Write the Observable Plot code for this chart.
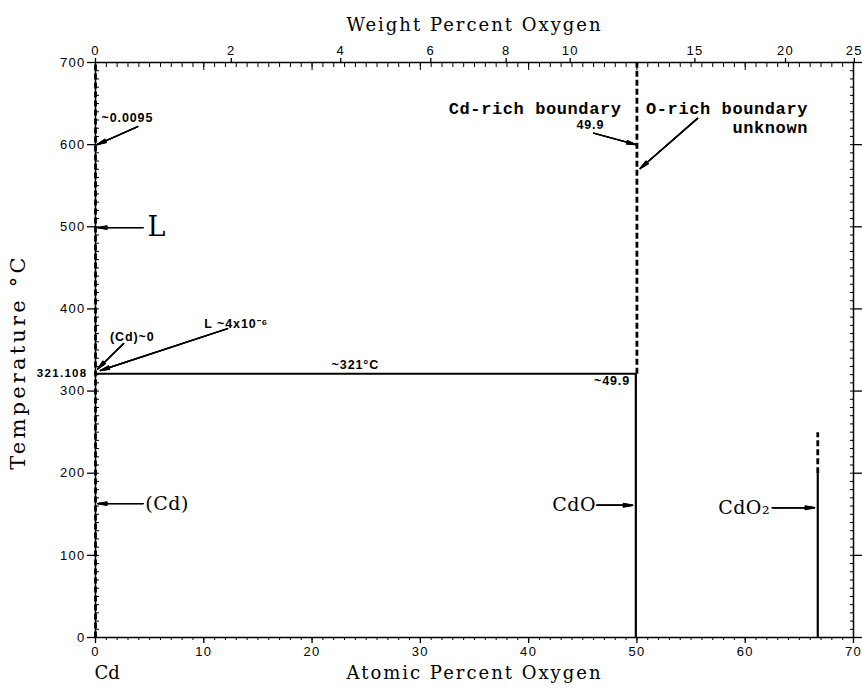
<!DOCTYPE html>
<html>
<head>
<meta charset="utf-8">
<script src="https://cdn.jsdelivr.net/npm/d3@7"></script>
<script src="https://cdn.jsdelivr.net/npm/@observablehq/plot@0.6"></script>
<style>
  html, body { margin: 0; padding: 0; background: #fff; }
  svg { display: block; }
</style>
</head>
<body>
<div id="chart"></div>
<script>
// ---- axis ticks ----
const atTicks = [0, 10, 20, 30, 40, 50, 60, 70];
const atMinor = d3.range(0, 71, 1);
const tempTicks = [0, 100, 200, 300, 400, 500, 600, 700];
const tempMinor = d3.range(0, 701, 10);
const wtTicks = [0, 2, 4, 6, 8, 10, 15, 20, 25];
const massO = 15.9994, massCd = 112.41;
const wtToAt = w => 100 * (w / massO) / (w / massO + (100 - w) / massCd);

// ---- phase boundaries (at.% O, °C) ----
const eutT = 321.108;
const cdoCdRich = 49.9;
const cdoORich = 50.0;
const cdo2X = 66.7;
const cdo2SolidTop = 200;
const cdo2DashTop = 250;
const tMax = 700;

const solidSegs = [
  {x1: 0, y1: eutT, x2: cdoCdRich, y2: eutT},
  {x1: cdoCdRich, y1: 0, x2: cdoCdRich, y2: eutT},
  {x1: cdo2X, y1: 0, x2: cdo2X, y2: cdo2SolidTop}
];
const dashedSegs = [
  {x1: 0, y1: 0, x2: 0, y2: tMax},
  {x1: cdoORich, y1: eutT, x2: cdoORich, y2: tMax},
  {x1: cdo2X, y1: cdo2SolidTop, x2: cdo2X, y2: cdo2DashTop}
];

// ---- annotations (data coordinates) ----
const smallLabels = [
  {text: "~0.0095", x: 0.55, y: 633, anchor: "start"},
  {text: "(Cd)~0", x: 3.4, y: 366, anchor: "middle"},
  {text: "L ~4x10⁻⁶", x: 13.0, y: 382, anchor: "middle"},
  {text: "~321°C", x: 24.0, y: 332, anchor: "middle"},
  {text: "~49.9", x: 47.7, y: 312, anchor: "middle"},
  {text: "49.9", x: 45.7, y: 624, anchor: "middle"}
];
const monoLabels = [
  {text: "Cd-rich boundary", x: 40.6, y: 644, anchor: "middle"},
  {text: "O-rich boundary", x: 65.8, y: 644, anchor: "end"},
  {text: "unknown", x: 65.8, y: 621, anchor: "end"}
];
const phaseLabels = [
  {text: "(Cd)", x: 4.6, y: 163, anchor: "start"},
  {text: "CdO", x: 44.2, y: 161, anchor: "middle"},
  {text: "CdO₂", x: 57.5, y: 158, anchor: "start"}
];
const liquidLabel = [{text: "L", x: 4.8, y: 499}];
const arrows = [
  {x1: 3.9, y1: 622, x2: 0.15, y2: 600},
  {x1: 4.4, y1: 499, x2: 0.2, y2: 499},
  {x1: 2.6, y1: 358, x2: 0.2, y2: 327},
  {x1: 12.2, y1: 376, x2: 0.45, y2: 325},
  {x1: 46.0, y1: 614, x2: 49.9, y2: 600},
  {x1: 55.6, y1: 632, x2: 50.3, y2: 571},
  {x1: 4.4, y1: 163, x2: 0.2, y2: 163},
  {x1: 46.3, y1: 161, x2: 49.6, y2: 161},
  {x1: 62.5, y1: 158, x2: 66.4, y2: 158}
];

const wtPos = wtTicks.map(wtToAt);
const wtLabel = new Map(wtPos.map((p, i) => [p, String(wtTicks[i])]));

const serif = "'DejaVu Serif', serif";
const sans = "'Liberation Sans', Arial, sans-serif";
const mono = "'Liberation Mono', 'DejaVu Sans Mono', monospace";

const arrowMarks = [8, 15, 22].map(a => Plot.arrow(arrows, {
  x1: "x1", y1: "y1", x2: "x2", y2: "y2",
  headLength: 10, headAngle: a, strokeWidth: 1.4, stroke: "black"
}));

function labelMarks(data, opts, cls) {
  return ["start", "middle", "end"].map(anchor => Plot.text(data.filter(d => (d.anchor || "start") === anchor), {
    x: "x", y: "y", text: "text", textAnchor: anchor, ariaLabel: () => cls, ...opts
  }));
}

const svg = Plot.plot({
  width: 862, height: 688,
  marginLeft: 95, marginRight: 9, marginTop: 62, marginBottom: 51,
  style: {fontFamily: sans, fontSize: "13px", color: "black", background: "white", overflow: "visible"},
  x: {domain: [0, 70]},
  y: {domain: [0, 700]},
  marks: [
    Plot.frame({stroke: "black", strokeWidth: 1.5}),
    // bottom axis
    Plot.axisX(atTicks, {anchor: "bottom", tickSize: 6, tickPadding: 3, label: null, strokeWidth: 1.3}),
    Plot.axisX(atMinor, {anchor: "bottom", tickSize: 3, tickFormat: () => "", label: null}),
    // top axis (weight percent)
    Plot.axisX(wtPos, {anchor: "top", tickSize: 5, tickPadding: 3, tickFormat: d => wtLabel.get(d), label: null, strokeWidth: 1.3}),
    Plot.axisX(atTicks, {anchor: "top", tickSize: 7, dy: 7, tickFormat: () => "", label: null}),
    Plot.axisX(atMinor, {anchor: "top", tickSize: 4, dy: 4, tickFormat: () => "", label: null}),
    // left axis
    Plot.axisY(tempTicks, {anchor: "left", tickSize: 8, tickPadding: 2, label: null, strokeWidth: 1.3}),
    Plot.axisY(tempMinor, {anchor: "left", tickSize: 4, dx: 4, tickFormat: () => "", label: null}),
    Plot.axisY([eutT], {anchor: "left", tickSize: 0, tickPadding: 8, tickFormat: d => String(d), fontWeight: "bold", fontSize: 11.5, label: null}),
    // right axis
    Plot.axisY(tempTicks, {anchor: "right", tickSize: 8, tickFormat: () => "", label: null, strokeWidth: 1.3}),
    Plot.axisY(tempMinor, {anchor: "right", tickSize: 4, dx: -4, tickFormat: () => "", label: null}),
    // phase boundaries
    Plot.link(solidSegs, {x1: "x1", y1: "y1", x2: "x2", y2: "y2", stroke: "black", strokeWidth: 2.2}),
    Plot.link(dashedSegs, {x1: "x1", y1: "y1", x2: "x2", y2: "y2", stroke: "black", strokeWidth: 2.8, strokeDasharray: "6,3"}),
    // arrows
    ...arrowMarks,
    // labels
    ...labelMarks(smallLabels, {fontFamily: sans, fontWeight: "bold", fontSize: 12.5}, "small"),
    ...labelMarks(monoLabels, {fontFamily: mono, fontWeight: "bold", fontSize: 17}, "mono"),
    ...labelMarks(phaseLabels, {fontFamily: serif, fontSize: 19}, "phase"),
    Plot.text(liquidLabel, {x: "x", y: "y", text: "text", textAnchor: "start", fontFamily: serif, fontSize: 27}),
    // axis titles
    Plot.text(["Weight Percent Oxygen"], {frameAnchor: "top", dy: -44, fontFamily: serif, fontSize: 18, ariaLabel: () => "title"}),
    Plot.text(["Atomic Percent Oxygen"], {frameAnchor: "bottom", dy: 41, fontFamily: serif, fontSize: 18, ariaLabel: () => "title"}),
    Plot.text(["Cd"], {x: () => 0, frameAnchor: "bottom", dy: 41, textAnchor: "start", dx: -1, fontFamily: serif, fontSize: 18}),
    Plot.text(["Temperature °C"], {frameAnchor: "left", textAnchor: "middle", dx: -77, dy: 12, rotate: -90, fontFamily: serif, fontSize: 21, ariaLabel: () => "ytitle"})
  ]
});

document.getElementById("chart").appendChild(svg);
const s = d3.select(svg);
s.selectAll('g[aria-label$="tick label"]').attr("letter-spacing", 1.3);
s.selectAll('[aria-label="small"]').attr("letter-spacing", 0.9);
s.selectAll('[aria-label="mono"]').attr("letter-spacing", 0.6);
s.selectAll('[aria-label="phase"]').attr("letter-spacing", 0.5);
s.selectAll('[aria-label="title"]').attr("letter-spacing", 2);
s.selectAll('[aria-label="ytitle"]').attr("letter-spacing", 3.2);
</script>
</body>
</html>
